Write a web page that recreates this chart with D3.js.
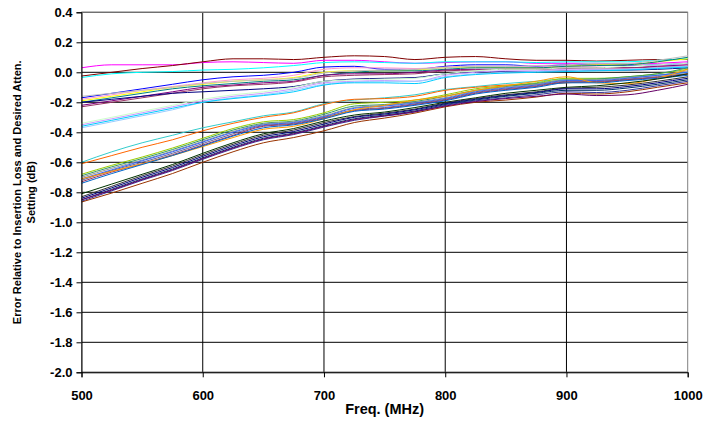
<!DOCTYPE html>
<html>
<head>
<meta charset="utf-8">
<script src="https://cdnjs.cloudflare.com/ajax/libs/d3/7.8.5/d3.min.js"></script>
<style>
  html, body { margin: 0; padding: 0; background: #fff; }
  svg text { font-family: "Liberation Sans", Arial, sans-serif; font-weight: bold; fill: #000; }
</style>
</head>
<body>
<svg id="chart" width="706" height="432"></svg>
<script>
// ---- Data ----
const freqs = [500,525,550,575,600,625,650,675,700,725,750,775,800,825,850,875,900,925,950,975,1000];
const yTicks = [0.4,0.2,0.0,-0.2,-0.4,-0.6,-0.8,-1.0,-1.2,-1.4,-1.6,-1.8,-2.0];
const xTicks = [500,600,700,800,900,1000];

const seriesColors = ["#FF00FF","#800000","#00FFFF",
  "#0000FF","#FF99CC","#FFFF00","#008080","#C0C0C0","#800080","#993366","#000080",
  "#CC99FF","#99CCFF","#CCFFCC","#00CCFF",
  "#33CCCC","#FF6600",
  "#99CC00","#339966","#969696","#3366FF","#666699","#993366","#FF9900","#0066CC",
  "#003300","#333333","#000080","#003366","#333399","#993300","#660066"];
const seriesValues = [
  [0.03,0.05,0.05,0.05,0.065,0.07,0.065,0.06,0.08,0.08,0.07,0.06,0.065,0.07,0.07,0.06,0.06,0.06,0.055,0.06,0.07],
  [-0.025,0.0,0.025,0.045,0.07,0.09,0.09,0.085,0.1,0.11,0.105,0.085,0.1,0.105,0.09,0.08,0.08,0.075,0.08,0.085,0.085],
  [-0.035,-0.01,0.0,0.005,0.015,0.02,0.03,0.045,0.065,0.07,0.065,0.06,0.07,0.07,0.07,0.065,0.07,0.07,0.07,0.08,0.09],
  [-0.17,-0.14,-0.11,-0.08,-0.05,-0.03,-0.02,0.0,0.035,0.04,0.02,0.02,0.04,0.05,0.05,0.04,0.05,0.05,0.045,0.05,0.06],
  [-0.18,-0.15,-0.12,-0.095,-0.07,-0.05,-0.04,-0.02,0.02,0.03,0.03,0.025,0.035,0.04,0.04,0.035,0.04,0.035,0.03,0.04,0.05],
  [-0.19,-0.16,-0.13,-0.1,-0.08,-0.06,-0.05,-0.035,0.0,0.01,0.01,0.015,0.03,0.035,0.03,0.03,0.04,0.05,0.05,0.07,0.09],
  [-0.2,-0.17,-0.14,-0.11,-0.09,-0.075,-0.06,-0.05,-0.02,0.0,0.01,0.01,0.02,0.03,0.03,0.03,0.04,0.045,0.05,0.07,0.1],
  [-0.16,-0.14,-0.12,-0.1,-0.075,-0.06,-0.05,-0.04,-0.005,0.01,0.015,0.02,0.03,0.04,0.04,0.045,0.05,0.06,0.06,0.08,0.11],
  [-0.22,-0.19,-0.16,-0.13,-0.1,-0.085,-0.07,-0.06,-0.02,-0.01,-0.01,0.0,0.015,0.02,0.02,0.02,0.03,0.03,0.03,0.04,0.05],
  [-0.23,-0.2,-0.17,-0.14,-0.11,-0.09,-0.08,-0.065,-0.03,-0.02,-0.015,-0.01,0.01,0.015,0.02,0.02,0.025,0.03,0.03,0.035,0.04],
  [-0.2,-0.18,-0.16,-0.14,-0.13,-0.12,-0.11,-0.095,-0.06,-0.045,-0.04,-0.035,-0.01,0.0,0.005,0.005,0.01,0.015,0.015,0.02,0.03],
  [-0.35,-0.31,-0.27,-0.23,-0.19,-0.16,-0.14,-0.11,-0.07,-0.06,-0.055,-0.06,-0.02,0.0,0.01,0.01,0.02,0.02,0.02,0.03,0.04],
  [-0.37,-0.33,-0.29,-0.25,-0.2,-0.17,-0.15,-0.12,-0.08,-0.065,-0.06,-0.06,-0.03,-0.01,0.0,0.005,0.01,0.015,0.02,0.03,0.04],
  [-0.34,-0.3,-0.26,-0.22,-0.18,-0.15,-0.13,-0.1,-0.06,-0.05,-0.045,-0.04,-0.01,0.01,0.02,0.02,0.03,0.03,0.04,0.05,0.06],
  [-0.36,-0.32,-0.28,-0.24,-0.2,-0.175,-0.155,-0.13,-0.085,-0.07,-0.07,-0.075,-0.035,-0.015,-0.005,0.0,0.005,0.01,0.015,0.025,0.035],
  [-0.6,-0.53,-0.47,-0.42,-0.37,-0.33,-0.29,-0.265,-0.21,-0.185,-0.17,-0.15,-0.115,-0.095,-0.075,-0.06,-0.045,-0.045,-0.035,-0.02,0.0],
  [-0.61,-0.555,-0.5,-0.45,-0.39,-0.34,-0.3,-0.27,-0.215,-0.18,-0.175,-0.16,-0.12,-0.1,-0.085,-0.08,-0.07,-0.06,-0.05,-0.03,-0.01],
  [-0.68,-0.62,-0.565,-0.505,-0.44,-0.375,-0.33,-0.315,-0.27,-0.21,-0.2,-0.185,-0.15,-0.11,-0.09,-0.07,-0.04,-0.04,-0.03,-0.01,0.02],
  [-0.69,-0.63,-0.575,-0.515,-0.45,-0.385,-0.34,-0.325,-0.28,-0.225,-0.215,-0.195,-0.16,-0.12,-0.095,-0.075,-0.05,-0.045,-0.03,-0.01,0.03],
  [-0.7,-0.64,-0.585,-0.525,-0.46,-0.395,-0.345,-0.33,-0.29,-0.235,-0.22,-0.2,-0.17,-0.125,-0.1,-0.08,-0.05,-0.05,-0.035,-0.02,0.01],
  [-0.71,-0.65,-0.59,-0.53,-0.465,-0.4,-0.35,-0.335,-0.295,-0.24,-0.225,-0.205,-0.175,-0.13,-0.105,-0.085,-0.055,-0.055,-0.04,-0.02,0.0],
  [-0.72,-0.655,-0.6,-0.54,-0.475,-0.41,-0.355,-0.34,-0.3,-0.25,-0.235,-0.21,-0.18,-0.135,-0.11,-0.09,-0.06,-0.06,-0.045,-0.03,-0.01],
  [-0.73,-0.665,-0.61,-0.55,-0.485,-0.42,-0.36,-0.345,-0.305,-0.255,-0.24,-0.215,-0.185,-0.14,-0.115,-0.095,-0.065,-0.065,-0.05,-0.035,-0.015],
  [-0.71,-0.66,-0.61,-0.555,-0.495,-0.435,-0.38,-0.36,-0.31,-0.25,-0.22,-0.185,-0.16,-0.12,-0.09,-0.06,-0.03,-0.07,-0.075,-0.04,0.02],
  [-0.74,-0.675,-0.615,-0.555,-0.49,-0.425,-0.37,-0.35,-0.31,-0.26,-0.245,-0.22,-0.19,-0.145,-0.12,-0.1,-0.07,-0.07,-0.055,-0.04,-0.02],
  [-0.81,-0.745,-0.68,-0.615,-0.54,-0.47,-0.41,-0.375,-0.325,-0.285,-0.265,-0.235,-0.2,-0.17,-0.14,-0.12,-0.1,-0.09,-0.07,-0.045,-0.01],
  [-0.83,-0.76,-0.69,-0.625,-0.55,-0.48,-0.42,-0.385,-0.335,-0.295,-0.272,-0.245,-0.205,-0.175,-0.15,-0.13,-0.105,-0.1,-0.085,-0.06,-0.03],
  [-0.84,-0.77,-0.7,-0.635,-0.56,-0.49,-0.43,-0.395,-0.345,-0.3,-0.278,-0.25,-0.21,-0.18,-0.155,-0.135,-0.11,-0.11,-0.095,-0.07,-0.04],
  [-0.85,-0.78,-0.71,-0.645,-0.57,-0.5,-0.44,-0.405,-0.355,-0.31,-0.285,-0.258,-0.215,-0.185,-0.16,-0.14,-0.12,-0.12,-0.105,-0.08,-0.05],
  [-0.86,-0.79,-0.72,-0.655,-0.58,-0.51,-0.45,-0.415,-0.365,-0.32,-0.292,-0.265,-0.22,-0.19,-0.17,-0.15,-0.13,-0.135,-0.12,-0.09,-0.06],
  [-0.865,-0.805,-0.74,-0.675,-0.6,-0.53,-0.47,-0.435,-0.39,-0.335,-0.305,-0.272,-0.23,-0.2,-0.185,-0.165,-0.14,-0.145,-0.13,-0.1,-0.07],
  [-0.85,-0.785,-0.715,-0.65,-0.575,-0.505,-0.445,-0.41,-0.36,-0.315,-0.29,-0.262,-0.225,-0.195,-0.175,-0.16,-0.145,-0.155,-0.15,-0.12,-0.08]
];

// ---- Layout ----
const plot = {left: 81.5, right: 687.7, top: 12.3, bottom: 372.3};
const svg = d3.select("#chart");

const x = d3.scaleLinear().domain([500, 1000]).range([plot.left, plot.right]);
const y = d3.scaleLinear().domain([0.4, -2.0]).range([plot.top, plot.bottom]);

// gridlines
svg.append("g").selectAll("line").data(yTicks).join("line")
  .attr("x1", plot.left).attr("x2", plot.right)
  .attr("y1", d => y(d)).attr("y2", d => y(d))
  .attr("stroke", "#000").attr("stroke-width", 1);
svg.append("g").selectAll("line").data(xTicks.slice(1, -1)).join("line")
  .attr("x1", d => x(d)).attr("x2", d => x(d))
  .attr("y1", plot.top).attr("y2", plot.bottom)
  .attr("stroke", "#000").attr("stroke-width", 1);

// plot border
svg.append("rect")
  .attr("x", plot.left).attr("y", plot.top)
  .attr("width", plot.right - plot.left).attr("height", plot.bottom - plot.top)
  .attr("fill", "none").attr("stroke", "#808080").attr("stroke-width", 1);

// series
const line = d3.line()
  .x((d, i) => x(freqs[i]))
  .y(d => y(d))
  .curve(d3.curveMonotoneX);

svg.append("g").selectAll("path").data(seriesValues).join("path")
  .attr("d", d => line(d))
  .attr("fill", "none")
  .attr("stroke", (d, i) => seriesColors[i])
  .attr("stroke-width", 1);

// axes
const yAxis = d3.axisLeft(y).tickValues(yTicks).tickSize(5).tickPadding(4)
  .tickFormat(d => d3.format(".1f")(d).replace("−", "-"));
const gy = svg.append("g").attr("transform", `translate(${plot.left},0)`).call(yAxis);
gy.select(".domain").attr("stroke", "#000");
gy.selectAll(".tick line").attr("stroke", "#000");
gy.selectAll("text").style("font-size", "13px").style("font-weight", "bold")
  .style("font-family", "'Liberation Sans', Arial, sans-serif").attr("fill", "#000");

const xAxis = d3.axisBottom(x).tickValues(xTicks).tickSize(5).tickPadding(13)
  .tickFormat(d3.format("d"));
const gx = svg.append("g").attr("transform", `translate(0,${plot.bottom})`).call(xAxis);
gx.select(".domain").attr("stroke", "#000");
gx.selectAll(".tick line").attr("stroke", "#000");
gx.selectAll("text").style("font-size", "13px").style("font-weight", "bold")
  .style("font-family", "'Liberation Sans', Arial, sans-serif").attr("fill", "#000");

// axis titles
svg.append("text")
  .attr("x", (plot.left + plot.right) / 2).attr("y", 414)
  .attr("text-anchor", "middle").style("font-size", "14.5px")
  .text("Freq. (MHz)");

const yt = svg.append("text")
  .attr("transform", `translate(21,${(plot.top + plot.bottom) / 2}) rotate(-90)`)
  .attr("text-anchor", "middle").style("font-size", "11px");
yt.append("tspan").attr("x", 0).attr("y", 0).text("Error Relative to Insertion Loss and Desired Atten.");
yt.append("tspan").attr("x", 0).attr("y", 14).text("Setting (dB)");
</script>
</body>
</html>
